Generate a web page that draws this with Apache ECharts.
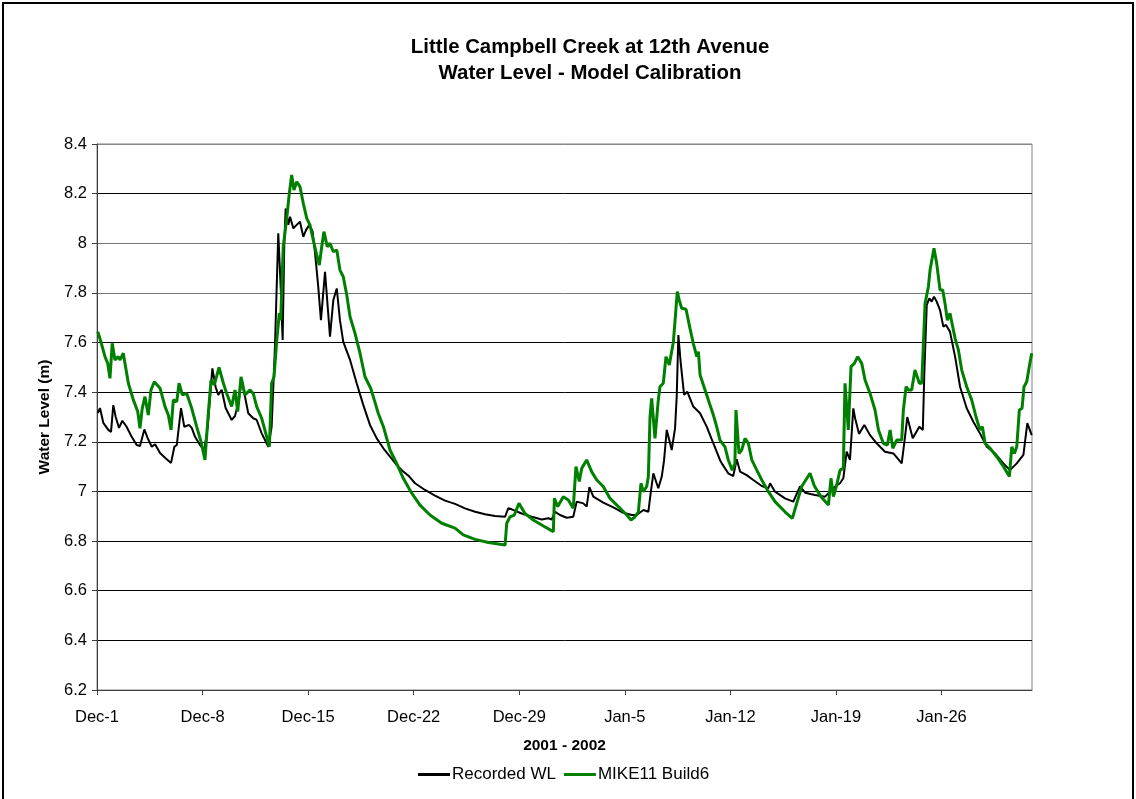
<!DOCTYPE html>
<html>
<head>
<meta charset="utf-8">
<script src="https://cdn.jsdelivr.net/npm/echarts@6/dist/echarts.min.js"></script>
<style>
html,body{margin:0;padding:0;background:#fff;}
#chart{width:1136px;height:799px;}
</style>
</head>
<body>
<div id="chart"></div>
<script>
// Tick labels for x axis (one per 7 days, starting Dec-1 2001)
const xTickLabels = ["Dec-1","Dec-8","Dec-15","Dec-22","Dec-29","Jan-5","Jan-12","Jan-19","Jan-26"];

// Recorded WL: days since Dec-1 and water level (m)
const recordedDays = [0.05,0.2,0.42,0.75,0.93,1.08,1.24,1.46,1.68,1.97,2.30,2.63,2.85,3.14,3.36,3.63,3.85,4.18,4.51,4.91,5.13,5.29,5.57,5.79,6.10,6.28,6.50,6.83,7.12,7.34,7.65,7.87,8.04,8.27,8.53,8.93,9.15,9.37,9.60,9.77,10.03,10.36,10.59,10.92,11.36,11.58,11.80,12.02,12.18,12.31,12.42,12.51,12.69,12.80,13.02,13.24,13.46,13.68,13.86,14.08,14.30,14.46,14.67,14.85,15.12,15.45,15.67,15.90,16.11,16.33,16.78,17.22,17.66,18.10,18.55,18.99,19.43,19.87,20.31,20.71,21.09,21.75,22.41,23.08,23.74,24.40,25.07,25.73,26.39,27.06,27.27,27.50,28.16,28.83,29.49,29.93,30.15,30.37,30.70,31.15,31.58,31.81,32.25,32.47,32.65,32.91,33.57,34.24,34.90,35.46,35.79,36.23,36.56,36.67,36.89,37.22,37.45,37.60,37.78,38.11,38.33,38.44,38.55,38.71,38.93,39.14,39.54,39.99,40.43,40.87,41.31,41.43,41.86,42.19,42.42,42.64,43.08,43.52,44.08,44.52,44.63,44.96,45.62,46.17,46.62,46.95,47.61,48.28,48.61,48.94,49.27,49.49,49.71,49.93,50.15,50.27,50.53,50.88,51.26,51.70,52.25,52.81,53.36,53.58,53.73,54.09,54.53,54.76,54.86,55.02,55.19,55.35,55.50,55.68,55.90,56.12,56.30,56.56,56.90,57.23,57.67,58.11,58.55,59.00,59.55,60.10,60.54,60.99,61.43,61.69,61.98];
const recordedLevels = [7.316,7.336,7.276,7.248,7.24,7.348,7.30,7.256,7.285,7.26,7.22,7.187,7.183,7.25,7.215,7.18,7.19,7.155,7.136,7.115,7.18,7.187,7.336,7.26,7.268,7.256,7.22,7.187,7.167,7.26,7.496,7.42,7.389,7.41,7.336,7.288,7.304,7.356,7.449,7.395,7.315,7.295,7.288,7.234,7.18,7.26,7.583,8.04,7.825,7.61,8.0,8.14,8.074,8.107,8.06,8.074,8.087,8.026,8.053,8.074,8.047,7.96,7.825,7.69,7.885,7.624,7.771,7.818,7.69,7.603,7.53,7.436,7.348,7.268,7.214,7.174,7.14,7.107,7.08,7.06,7.033,7.006,6.983,6.963,6.95,6.932,6.918,6.908,6.901,6.898,6.932,6.928,6.911,6.898,6.887,6.892,6.887,6.918,6.905,6.894,6.898,6.959,6.952,6.939,7.017,6.979,6.955,6.936,6.914,6.905,6.905,6.925,6.918,6.972,7.073,7.013,7.06,7.124,7.248,7.167,7.254,7.382,7.63,7.516,7.389,7.402,7.342,7.315,7.261,7.194,7.127,7.113,7.073,7.062,7.13,7.08,7.066,7.046,7.022,7.013,7.033,6.999,6.972,6.959,7.02,6.995,6.986,6.979,6.999,7.02,7.033,7.053,7.16,7.127,7.335,7.295,7.232,7.268,7.227,7.194,7.16,7.153,7.113,7.22,7.30,7.214,7.261,7.248,7.476,7.751,7.778,7.765,7.785,7.765,7.731,7.664,7.671,7.644,7.543,7.422,7.335,7.281,7.234,7.18,7.153,7.113,7.086,7.113,7.147,7.275,7.227];

// MIKE11 Build6 model: days since Dec-1 and water level (m)
const modelDays = [0.05,0.26,0.53,0.71,0.86,1.01,1.19,1.41,1.53,1.74,2.08,2.41,2.70,2.85,3.00,3.18,3.40,3.58,3.80,4.18,4.51,4.73,4.91,5.06,5.29,5.44,5.66,5.95,6.28,6.61,6.90,7.16,7.38,7.56,7.78,8.09,8.38,8.60,8.93,9.15,9.33,9.55,9.81,10.15,10.36,10.59,10.92,11.25,11.43,11.58,11.74,11.92,12.09,12.18,12.35,12.58,12.75,12.91,13.06,13.24,13.46,13.68,13.91,14.12,14.34,14.57,14.74,14.90,15.05,15.27,15.45,15.67,15.90,16.11,16.33,16.56,16.78,17.11,17.44,17.77,18.15,18.32,18.65,18.99,19.43,19.87,20.31,20.87,21.42,22.08,22.86,23.74,24.29,25.07,25.95,27.06,27.17,27.39,27.67,27.98,28.38,28.93,29.60,30.26,30.33,30.55,30.92,31.03,31.25,31.58,31.76,31.98,32.14,32.47,32.80,33.14,33.57,34.02,34.57,35.13,35.41,35.68,35.90,36.07,36.23,36.45,36.56,36.67,36.78,37.00,37.22,37.33,37.55,37.73,37.95,38.22,38.33,38.48,38.61,38.77,39.06,39.32,39.54,39.77,39.88,39.99,40.32,40.65,40.87,41.09,41.31,41.64,41.86,42.12,42.30,42.37,42.57,42.75,42.97,43.19,43.42,43.75,44.08,44.52,44.96,45.62,46.11,46.40,46.73,47.00,47.28,47.57,48.01,48.50,48.67,48.83,49.05,49.27,49.49,49.60,49.82,50.00,50.22,50.44,50.71,50.93,51.26,51.59,51.82,52.14,52.41,52.59,52.77,53.03,53.36,53.47,53.65,53.80,54.02,54.24,54.53,54.69,54.91,55.13,55.24,55.50,55.68,55.90,56.08,56.23,56.39,56.56,56.68,56.90,57.12,57.34,57.67,58.00,58.29,58.55,58.71,58.89,59.22,59.66,60.11,60.50,60.66,60.83,60.99,61.16,61.34,61.47,61.65,61.82,61.98];
const modelLevels = [7.644,7.603,7.543,7.516,7.456,7.597,7.53,7.543,7.53,7.557,7.436,7.369,7.322,7.254,7.335,7.382,7.308,7.409,7.442,7.416,7.342,7.308,7.248,7.369,7.362,7.436,7.389,7.395,7.335,7.261,7.2,7.127,7.315,7.449,7.429,7.5,7.436,7.395,7.342,7.409,7.322,7.462,7.389,7.409,7.395,7.342,7.295,7.221,7.18,7.436,7.462,7.61,7.718,7.69,7.986,8.10,8.20,8.275,8.215,8.248,8.228,8.161,8.10,8.074,8.013,7.953,7.912,7.986,8.047,7.986,8.0,7.966,7.973,7.892,7.865,7.792,7.704,7.637,7.557,7.462,7.416,7.382,7.315,7.261,7.167,7.113,7.053,6.993,6.945,6.905,6.872,6.852,6.825,6.807,6.794,6.784,6.872,6.898,6.905,6.952,6.911,6.885,6.861,6.838,6.972,6.939,6.979,6.972,6.966,6.932,7.1,7.04,7.093,7.127,7.08,7.046,7.02,6.972,6.939,6.905,6.885,6.898,6.918,7.033,6.999,7.02,7.06,7.30,7.375,7.214,7.369,7.422,7.436,7.543,7.51,7.603,7.61,7.805,7.771,7.738,7.734,7.657,7.597,7.543,7.563,7.469,7.409,7.348,7.308,7.261,7.207,7.18,7.127,7.086,7.113,7.328,7.153,7.167,7.214,7.194,7.127,7.086,7.046,6.999,6.959,6.918,6.892,6.952,7.02,7.046,7.073,7.022,6.979,6.945,7.053,6.979,7.026,7.086,7.093,7.436,7.248,7.503,7.516,7.543,7.516,7.449,7.395,7.328,7.248,7.194,7.187,7.248,7.174,7.207,7.207,7.328,7.422,7.409,7.409,7.489,7.436,7.436,7.758,7.825,7.892,7.98,7.919,7.812,7.812,7.758,7.69,7.718,7.718,7.617,7.57,7.489,7.422,7.369,7.30,7.248,7.261,7.194,7.174,7.14,7.1,7.06,7.18,7.153,7.18,7.328,7.335,7.422,7.442,7.503,7.557];

const zip = (xs, ys) => xs.map((x, i) => [x, ys[i]]);
const xTickValues = xTickLabels.map((_, i) => i * 7);

const chart = echarts.init(document.getElementById('chart'), null, {renderer: 'canvas'});
const FONT = 'Liberation Sans, Arial, sans-serif';

chart.setOption({
  animation: false,
  backgroundColor: '#ffffff',
  title: {
    text: 'Little Campbell Creek at 12th Avenue\nWater Level - Model Calibration',
    left: 585,
    textAlign: 'center',
    top: 29,
    textStyle: {fontFamily: FONT, fontSize: 20.4, fontWeight: 'bold', color: '#000', lineHeight: 26, align: 'center'}
  },
  graphic: [{
    type: 'rect',
    shape: {x: 3, y: 3, width: 1130, height: 820},
    style: {fill: 'none', stroke: '#000', lineWidth: 2},
    silent: true
  }],
  legend: {
    bottom: 11,
    left: 413,
    itemWidth: 32,
    itemHeight: 3,
    itemGap: 8,
    textStyle: {fontFamily: FONT, fontSize: 17, color: '#000', padding: [0, 0, 0, -3]},
    data: [
      {name: 'Recorded WL', icon: 'rect'},
      {name: 'MIKE11 Build6', icon: 'rect'}
    ]
  },
  grid: {
    left: 97, right: 104, top: 144, bottom: 109,
    show: true, borderColor: '#808080', borderWidth: 1, backgroundColor: 'transparent'
  },
  xAxis: {
    type: 'value',
    min: 0, max: 62, interval: 7,
    name: '2001 - 2002',
    nameLocation: 'middle',
    nameGap: 48,
    nameTextStyle: {fontFamily: FONT, fontSize: 15.5, fontWeight: 'bold', color: '#000'},
    axisLine: {lineStyle: {color: '#404040', width: 1}},
    axisTick: {show: true, length: 5, inside: false, customValues: xTickValues, lineStyle: {color: '#404040'}},
    axisLabel: {
      fontFamily: FONT, fontSize: 16.5, color: '#000', margin: 19,
      customValues: xTickValues,
      formatter: v => xTickLabels[Math.round(v / 7)] || ''
    },
    splitLine: {show: false}
  },
  yAxis: {
    type: 'value',
    min: 6.2, max: 8.4, interval: 0.2,
    name: 'Water Level (m)',
    nameLocation: 'middle',
    nameGap: 43,
    nameTextStyle: {fontFamily: FONT, fontSize: 15.5, fontWeight: 'bold', color: '#000'},
    axisLine: {show: true, lineStyle: {color: '#404040', width: 1}},
    axisTick: {show: true, length: 5, lineStyle: {color: '#404040'}},
    axisLabel: {
      fontFamily: FONT, fontSize: 16.5, color: '#000', margin: 10,
      formatter: v => String(+v.toFixed(1))
    },
    splitLine: {show: true, lineStyle: {color: ['#000','#000','#000','#000','#000','#000','#000','#000','#777','#777','#000','#888'], width: 1}}
  },
  series: [
    {
      name: 'Recorded WL',
      type: 'line',
      symbol: 'none',
      data: zip(recordedDays, recordedLevels),
      lineStyle: {color: '#000000', width: 2},
      itemStyle: {color: '#000000'},
      z: 2
    },
    {
      name: 'MIKE11 Build6',
      type: 'line',
      symbol: 'none',
      data: zip(modelDays, modelLevels),
      lineStyle: {color: '#008000', width: 3},
      itemStyle: {color: '#008000'},
      z: 3
    }
  ]
});
</script>
</body>
</html>
